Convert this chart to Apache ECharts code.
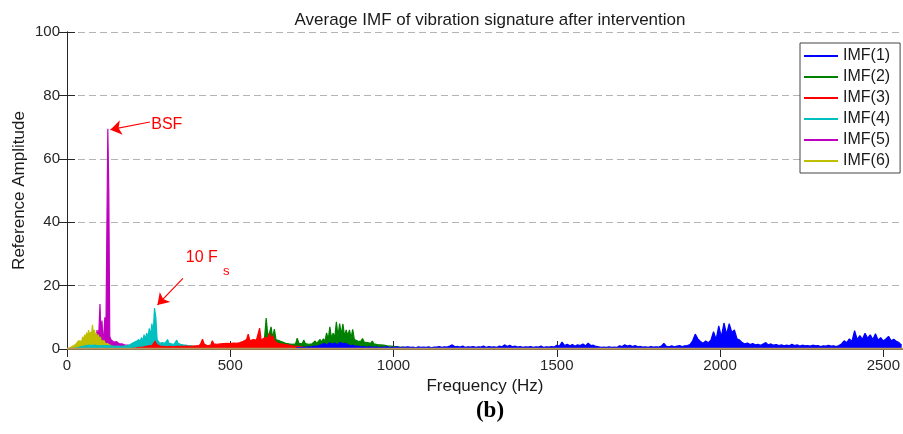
<!DOCTYPE html>
<html>
<head>
<meta charset="utf-8">
<script src="https://cdn.jsdelivr.net/npm/echarts@6/dist/echarts.min.js"></script>
<style>html,body{margin:0;padding:0;background:#fff;}#c{width:903px;height:434px;}</style>
</head>
<body>
<div id="c"></div>
<script>
// ---- data (amplitudes sampled on uniform frequency grids) ----
const seriesNames = ['IMF(1)','IMF(2)','IMF(3)','IMF(4)','IMF(5)','IMF(6)'];
const xTicks = [0, 500, 1000, 1500, 2000, 2500];
const yTicks = [0, 20, 40, 60, 80, 100];

// IMF(1): start 700 Hz, step 8 Hz
const imf1Start = 700, imf1Step = 8;
const imf1 = [
0.3,0.5,0.4,0.6,0.5,0.7,0.6,0.9,0.8,1.1,
1.4,1.8,1.2,2.0,1.5,1.9,1.3,2.1,1.6,1.8,
1.4,1.0,1.2,0.8,0.9,0.6,0.8,0.5,0.7,0.6,
0.5,0.7,0.4,0.6,0.5,0.8,0.4,0.6,0.5,0.7,
0.4,0.6,0.5,0.7,0.5,0.6,0.4,0.7,0.5,0.6,
0.5,0.7,0.4,0.6,0.6,0.8,0.5,0.7,0.6,0.9,
1.3,0.7,0.8,0.6,0.9,0.5,0.7,0.6,0.8,0.5,
0.7,0.6,0.9,0.5,0.8,0.6,0.7,0.5,0.9,0.7,
1.3,0.8,1.2,0.7,0.9,0.6,0.8,0.5,0.7,0.6,
0.8,0.5,0.7,0.6,0.9,0.5,0.7,0.6,0.8,0.6,
1.2,0.9,2.2,1.1,1.5,1.0,1.4,0.9,1.3,1.1,
1.6,1.0,1.8,1.1,1.2,0.8,0.7,0.5,0.6,0.5,
0.7,0.5,0.6,0.5,1.0,0.8,1.3,0.9,1.2,0.8,
1.1,0.7,0.8,0.6,0.7,0.5,0.8,0.6,0.7,0.6,
0.9,1.8,0.8,0.7,1.0,0.7,0.9,1.1,0.8,1.0,
1.1,1.4,2.6,4.7,3.2,2.4,1.8,2.5,2.0,2.8,
5.5,3.0,7.3,3.8,8.2,4.6,8.0,5.2,6.0,3.2,
2.8,2.0,1.6,1.9,1.4,1.7,1.3,1.5,1.2,1.6,
2.0,1.3,1.6,1.2,1.4,1.1,1.3,1.0,1.2,1.0,
1.5,1.1,1.3,0.9,1.2,1.0,1.1,0.9,1.2,1.0,
1.1,0.8,1.0,0.9,1.2,0.9,1.0,0.8,1.1,1.6,
2.6,2.0,3.2,2.4,5.8,3.0,4.2,3.1,5.0,3.4,
4.5,3.0,4.8,2.8,3.6,2.5,3.2,4.0,2.6,3.1,
2.4,2.0,1.2
];

// IMF(2): start 560 Hz, step 5 Hz
const imf2Start = 560, imf2Step = 5;
const imf2 = [
0.3,0.5,0.6,0.8,1.0,1.4,1.2,2.0,2.6,3.5,
9.8,4.2,5.0,7.0,3.4,6.3,3.0,3.5,2.6,3.0,
2.2,2.6,1.8,2.2,1.6,2.0,1.5,1.9,1.6,3.4,
1.8,2.2,1.6,2.8,1.7,2.3,1.5,2.1,1.6,2.0,
2.5,1.8,2.4,3.0,2.2,3.2,2.4,5.1,3.0,7.0,
3.4,5.0,3.6,8.6,4.0,8.0,4.5,7.9,4.0,6.0,
4.2,6.0,3.5,6.2,3.0,3.4,2.5,3.0,2.4,3.3,
2.2,2.8,2.0,2.6,1.8,2.5,1.6,1.9,1.4,1.7,
1.3,1.6,1.2,1.4,1.0,1.2,0.9,1.1,0.8,1.0,
0.7,0.9,0.6,0.8,0.5,0.7,0.5,0.6,0.4,0.5,
0.4,0.5,0.3,0.4,0.3,0.3,0.2,0.3,0.2
];

// IMF(3): start 200 Hz, step 5 Hz
const imf3Start = 200, imf3Step = 5;
const imf3 = [
0.2,0.3,0.3,0.4,0.5,0.6,0.5,0.7,0.8,0.9,
1.0,1.2,1.0,1.5,2.5,1.4,1.1,0.9,1.0,0.8,
0.9,0.7,1.0,0.8,0.9,0.7,1.0,0.8,0.9,0.8,
1.0,0.8,1.1,0.9,1.0,0.8,1.2,0.9,1.1,1.0,
1.3,1.1,1.8,3.1,1.6,1.2,1.0,1.4,1.2,2.6,
1.6,1.3,1.5,1.2,1.6,1.3,1.7,1.4,1.8,1.5,
1.7,1.4,1.9,1.5,1.8,1.6,2.0,1.7,2.4,2.0,
3.0,4.7,2.6,2.2,3.0,2.4,2.8,2.3,6.6,2.5,
3.2,2.6,3.8,3.0,5.0,3.2,4.2,2.6,2.2,1.8,
2.0,1.6,1.9,1.5,1.7,1.3,1.5,1.1,1.2,0.9,
1.0,0.8,0.9,0.7,0.7,0.5,0.6,0.4,0.5,0.3,
0.4,0.3,0.2
];

// IMF(4): start 20 Hz, step 4 Hz
const imf4Start = 20, imf4Step = 4;
const imf4 = [
0.1,0.2,0.3,0.4,0.5,0.6,0.8,0.7,0.9,1.0,
1.1,0.9,1.2,1.0,1.1,0.9,1.2,1.0,1.1,0.9,
1.0,0.9,1.1,0.8,1.0,0.9,1.1,0.8,1.0,0.9,
0.9,1.0,0.8,1.0,0.9,1.1,0.8,1.0,0.9,1.0,
1.0,1.2,1.1,1.4,1.6,1.3,2.0,1.5,2.4,2.0,
3.0,2.2,3.6,2.6,4.5,3.0,5.0,3.6,6.5,4.2,
8.0,5.0,12.9,10.0,3.0,2.5,1.8,2.2,2.0,2.6,
1.8,2.3,3.0,1.9,2.2,1.6,2.0,1.5,2.1,2.8,
1.8,2.2,1.5,1.8,1.3,1.6,1.2,1.5,1.0,1.3,
1.0,1.2,0.8,1.0,0.7,0.8,0.5,0.6,0.4,0.3,
0.2
];

// IMF(5): start 20 Hz, step 3 Hz
const imf5Start = 20, imf5Step = 3;
const imf5 = [
0.1,0.2,0.3,0.4,0.5,0.6,0.7,0.9,1.0,1.2,
1.4,1.3,1.8,1.5,2.0,1.7,2.4,2.0,2.8,2.2,
3.5,2.6,4.5,3.0,6.0,3.5,6.5,14.2,4.0,9.0,
3.0,5.0,10.0,3.5,3.0,69.5,50.0,4.0,3.0,2.5,
2.8,2.2,2.5,2.0,2.3,1.8,2.0,1.6,1.8,1.5,
1.6,1.3,1.5,1.2,1.4,1.1,1.2,1.0,1.1,0.9,
1.0,0.8,0.9,0.7,0.8,0.6,0.7,0.5,0.6,0.5,
0.5,0.4,0.4,0.3,0.3,0.2,0.2,0.2,0.1,0.1,0.1
];

// IMF(6): start 0 Hz, step 3 Hz
const imf6Start = 0, imf6Step = 3;
const imf6 = [
0.1,0.2,0.3,0.4,0.5,0.7,0.9,1.2,1.0,1.5,
2.0,1.6,2.6,2.0,3.2,2.4,3.8,2.8,4.5,3.2,
5.2,3.6,6.0,4.0,5.4,4.2,7.6,4.6,6.0,4.0,
5.0,3.5,4.5,3.0,3.8,2.6,3.2,2.2,2.6,1.8,
2.0,1.5,1.6,1.2,1.2,1.0,0.9,0.8,0.7,0.6,
0.5,0.5,0.4,0.4,0.3,0.3,0.3,0.2,0.2,0.2,
0.2,0.1,0.1,0.1,0.1,0.1,0.1
];

// residual baseline trace (tan), start 0 Hz, step 160 Hz
const resStart = 0, resStep = 160;
const residual = [0.1,0.1,0.1,0.1,0.1,0.1,0.1,0.1,0.1,0.1,0.1,0.1,0.1,0.1,0.1,0.1,0.1];

// annotations [freq, amplitude]
const bsfArrow = [[254, 71.6], [133, 69.2]];
const bsfText = [258, 70.9];
const fsArrow = [[355, 22.3], [277, 13.9]];
const fsText = [364, 28.7];
const fsSub = [478, 24.4];

// ---- build ----
function toPairs(start, step, arr) { return arr.map((v, i) => [start + i * step, v]); }
const colors = ['#0000ff', '#008000', '#ff0000', '#00bfbf', '#bf00bf', '#bfbf00'];
// drawing order (higher = on top)
const layer = [8, 5, 6, 4, 2, 3];
const datasets = [
  toPairs(imf1Start, imf1Step, imf1),
  toPairs(imf2Start, imf2Step, imf2),
  toPairs(imf3Start, imf3Step, imf3),
  toPairs(imf4Start, imf4Step, imf4),
  toPairs(imf5Start, imf5Step, imf5),
  toPairs(imf6Start, imf6Step, imf6)
];
const FONT = 'Liberation Sans, Arial, Helvetica, sans-serif';
const redLabel = (txt, size) => ({show: true, formatter: txt, position: 'inside', align: 'left', verticalAlign: 'middle', color: '#ff0000', fontSize: size, fontFamily: FONT});

const series = [{
  name: 'residual', type: 'line', data: toPairs(resStart, resStep, residual),
  showSymbol: false, symbol: 'none', lineStyle: {color: '#b8955a', width: 2}, itemStyle: {color: '#b8955a'},
  animation: false, z: 12
}];
datasets.forEach((d, i) => {
  const s = {
    name: seriesNames[i], type: 'line', data: d, symbol: 'none', showSymbol: false,
    lineStyle: {color: colors[i], width: 1.2}, itemStyle: {color: colors[i]},
    areaStyle: {color: colors[i], opacity: 1, origin: 'start'},
    animation: false, z: layer[i]
  };
  if (i === 4) {
    s.markLine = {
      silent: true, symbol: ['none', 'arrow'], symbolSize: 11, animation: false,
      lineStyle: {color: '#ff0000', width: 1.2, type: 'solid'}, label: {show: false},
      data: [[{coord: bsfArrow[0]}, {coord: bsfArrow[1]}]]
    };
    s.markPoint = {
      silent: true, animation: false, symbol: 'circle', symbolSize: 0,
      data: [{coord: bsfText, label: redLabel('BSF', 16)}]
    };
  }
  if (i === 3) {
    s.markLine = {
      silent: true, symbol: ['none', 'arrow'], symbolSize: 11, animation: false,
      lineStyle: {color: '#ff0000', width: 1.2, type: 'solid'}, label: {show: false},
      data: [[{coord: fsArrow[0]}, {coord: fsArrow[1]}]]
    };
    s.markPoint = {
      silent: true, animation: false, symbol: 'circle', symbolSize: 0,
      data: [{coord: fsText, label: redLabel('10 F', 16)}, {coord: fsSub, label: redLabel('s', 13)}]
    };
  }
  series.push(s);
});

const axisLineBlack = {show: true, lineStyle: {color: '#262626', width: 1}};
const chart = echarts.init(document.getElementById('c'), null, {renderer: 'canvas'});
chart.setOption({
  backgroundColor: '#ffffff',
  animation: false,
  title: [{
    text: 'Average IMF of vibration signature after intervention',
    left: 485, top: 7, textAlign: 'center',
    textStyle: {fontSize: 17, fontWeight: 'normal', color: '#1a1a1a', fontFamily: FONT}
  }, {
    text: '{p|(}{b|b}{p|)}', left: 485, top: 395, textAlign: 'center',
    textStyle: {rich: {
      p: {fontSize: 23, fontFamily: 'Liberation Serif, serif', color: '#000'},
      b: {fontSize: 23, fontWeight: 'bold', fontFamily: 'Liberation Serif, serif', color: '#000'}
    }}
  }],
  legend: {
    data: seriesNames, orient: 'vertical', left: 800, top: 43,
    icon: 'rect', itemWidth: 34, itemHeight: 2, itemGap: 5,
    padding: [5, 10, 4, 4],
    borderColor: '#444', borderWidth: 1, backgroundColor: '#ffffff',
    textStyle: {fontSize: 16, lineHeight: 16, color: '#1a1a1a', fontFamily: FONT}
  },
  grid: {left: 67, right: 0, top: 32, bottom: 85, containLabel: false},
  xAxis: [{
    type: 'value', min: 0, max: 2560, interval: 500,
    name: 'Frequency (Hz)', nameLocation: 'middle', nameGap: 26,
    nameTextStyle: {fontSize: 17, color: '#1a1a1a', fontFamily: FONT},
    axisLine: axisLineBlack,
    axisTick: {show: true, inside: true, length: 8, lineStyle: {color: '#262626'}},
    axisLabel: {fontSize: 15, color: '#262626', margin: 9, fontFamily: FONT, showMaxLabel: false,
      formatter: v => (xTicks.indexOf(v) >= 0 ? String(v) : '')},
    splitLine: {show: false}
  }, {
    type: 'value', min: 0, max: 2560, interval: 500, position: 'top',
    axisLine: axisLineBlack,
    axisTick: {show: true, inside: true, length: 8, lineStyle: {color: '#262626'}},
    axisLabel: {show: false}, splitLine: {show: false}
  }],
  yAxis: [{
    type: 'value', min: 0, max: 100, interval: 20,
    name: 'Reference Amplitude', nameLocation: 'middle', nameGap: 39, nameMoveOverlap: false,
    nameTextStyle: {fontSize: 17, color: '#1a1a1a', fontFamily: FONT},
    axisLine: axisLineBlack,
    axisTick: {show: true, inside: true, length: 8, lineStyle: {color: '#262626'}},
    axisLabel: {fontSize: 15, color: '#262626', margin: 7, fontFamily: FONT,
      formatter: v => (yTicks.indexOf(v) >= 0 ? String(v) : '')},
    splitLine: {show: true, lineStyle: {color: '#b4b4b4', type: [7, 4], width: 1}}
  }, {
    type: 'value', min: 0, max: 100, interval: 20, position: 'right',
    axisLine: axisLineBlack,
    axisTick: {show: true, inside: true, length: 8, lineStyle: {color: '#262626'}},
    axisLabel: {show: false}, splitLine: {show: false}
  }],
  series: series
});
</script>
</body>
</html>
